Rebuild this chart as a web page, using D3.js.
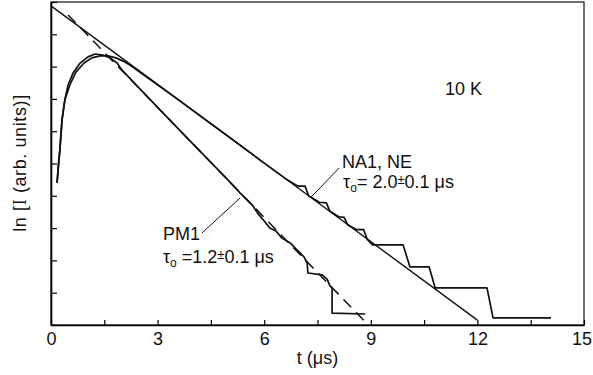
<!DOCTYPE html>
<html>
<head>
<meta charset="utf-8">
<script src="https://cdn.jsdelivr.net/npm/d3@7"></script>
<style>
  body { margin: 0; background: #fff; }
  svg { display: block; }
  text { font-family: "Liberation Sans", Arial, sans-serif; fill: #111; }
</style>
</head>
<body>
<svg id="chart" width="593" height="375"></svg>
<script>
// tick values
const xTicks = [0, 1.5, 3, 4.5, 6, 7.5, 9, 10.5, 12, 13.5, 15];
const xLabels = [0, 3, 6, 9, 12, 15];
const yTicks = [0, 1, 2, 3, 4, 5, 6, 7, 8, 9, 10];

// fitted exponentials (straight lines in ln scale), [t, lnI]
const na1Fit = [[0, 9.88], [12, 0.15]];
const pm1Fit = [[0.48, 9.6], [8.93, 0]];

// measured decay NA1, NE
const na1Data = [
  [0.17, 4.40], [0.21, 4.95], [0.25, 5.42], [0.31, 6.35], [0.39, 6.97], [0.53, 7.43],
  [0.70, 7.83], [0.93, 8.11], [1.15, 8.27], [1.38, 8.33], [1.60, 8.33],
  [1.83, 8.27], [2.03, 8.17], [2.22, 8.05], [3.5, 7.04], [5.0, 5.83],
  [6.0, 5.01], [6.6, 4.53], [6.95, 4.30], [7.15, 4.30], [7.25, 4.0],
  [7.55, 3.80], [7.75, 3.78], [7.85, 3.52], [8.10, 3.35], [8.25, 3.33],
  [8.35, 3.10], [8.6, 2.95], [8.8, 2.95], [8.9, 2.65], [9.05, 2.48],
  [9.91, 2.48], [10.10, 1.80], [10.64, 1.80], [10.81, 1.15], [12.27, 1.15],
  [12.44, 0.22], [14.07, 0.22]
];

// measured decay PM1
const pm1Data = [
  [0.17, 4.40], [0.21, 4.95], [0.25, 5.42], [0.31, 6.35], [0.39, 6.97], [0.48, 7.43],
  [0.62, 7.80], [0.82, 8.11], [1.04, 8.30], [1.24, 8.39], [1.46, 8.36],
  [1.66, 8.27], [1.86, 8.11], [2.00, 7.89], [3.0, 6.74], [4.0, 5.60],
  [4.93, 4.55], [5.32, 4.09], [5.66, 3.72], [5.83, 3.44], [6.00, 3.22],
  [6.16, 3.00], [6.33, 2.91], [6.50, 2.69], [6.73, 2.54], [6.90, 2.35],
  [7.01, 2.23], [7.12, 2.11], [7.21, 1.92], [7.23, 1.61], [7.63, 1.55],
  [7.77, 1.42], [7.85, 1.21], [7.91, 1.15], [7.91, 0.37], [8.84, 0.34]
];

const svg = d3.select('#chart');
const x = d3.scaleLinear().domain([0, 15]).range([51, 584]);
const y = d3.scaleLinear().domain([0, 10]).range([325, 2]);

const line = d3.line().x(d => x(d[0])).y(d => y(d[1]));

// frame
svg.append('rect')
  .attr('x', x(0)).attr('y', y(10))
  .attr('width', x(15) - x(0)).attr('height', y(0) - y(10))
  .attr('fill', 'none').attr('stroke', '#111').attr('stroke-width', 1.2);

// axes, ticks pointing inward
const xAxis = svg.append('g')
  .attr('transform', `translate(0,${y(0)})`)
  .call(d3.axisBottom(x).tickValues(xTicks).tickSizeInner(-5).tickSizeOuter(0).tickPadding(7)
    .tickFormat(d => xLabels.includes(d) ? d : ''));
xAxis.select('.domain').attr('stroke-width', 1.6);
xAxis.selectAll('line').attr('stroke-width', 1.2);
xAxis.selectAll('text').attr('font-size', 18).attr('font-family', '"Liberation Sans", Arial, sans-serif')
  .attr('dx', d => d === 15 ? -2.5 : 0);

const yAxis = svg.append('g')
  .attr('transform', `translate(${x(0)},0)`)
  .call(d3.axisLeft(y).tickValues(yTicks).tickSizeInner(-6).tickSizeOuter(0).tickFormat(''));
yAxis.select('.domain').attr('stroke-width', 1.6);
yAxis.selectAll('line').attr('stroke-width', 1.2);

// fit lines
svg.append('path').datum(na1Fit).attr('d', line)
  .attr('fill', 'none').attr('stroke', '#111').attr('stroke-width', 1.4);
svg.append('path').datum(pm1Fit).attr('d', line)
  .attr('fill', 'none').attr('stroke', '#111').attr('stroke-width', 1.5)
  .attr('stroke-dasharray', '11,7');

// measured curves
[na1Data, pm1Data].forEach(series => {
  svg.append('path').datum(series).attr('d', line)
    .attr('fill', 'none').attr('stroke', '#111').attr('stroke-width', 1.7)
    .attr('stroke-linejoin', 'round');
});

// leader lines
svg.append('path').datum([[8.11, 4.86], [7.32, 3.96]]).attr('d', line)
  .attr('stroke', '#111').attr('stroke-width', 1);
svg.append('path').datum([[4.25, 2.85], [5.32, 3.93]]).attr('d', line)
  .attr('stroke', '#111').attr('stroke-width', 1);

// annotations
const fs = 18;
svg.append('text').attr('x', x(11.09)).attr('y', y(7.12)).attr('font-size', fs).text('10 K');
svg.append('text').attr('x', x(8.19)).attr('y', y(4.86)).attr('font-size', fs).text('NA1, NE');
svg.append('text').attr('x', x(3.15)).attr('y', y(2.63)).attr('font-size', fs).text('PM1');

function tau(t, v, pre, val) {
  const tx = svg.append('text').attr('x', x(t)).attr('y', y(v)).attr('font-size', fs);
  tx.append('tspan').text('τ');
  tx.append('tspan').attr('dy', 4).attr('font-size', 12).text('o');
  tx.append('tspan').attr('dy', -4).text(pre + val);
  tx.append('tspan').attr('dy', -4).attr('font-size', 13).text('±');
  tx.append('tspan').attr('dy', 4).text('0.1 μs');
}
tau(8.22, 4.24, '= ', '2.0');
tau(3.15, 1.92, ' =', '1.2');

// axis titles
svg.append('text').attr('x', x(7.5)).attr('y', 364).attr('text-anchor', 'middle')
  .attr('font-size', fs).text('t (μs)');

const yt = svg.append('text').attr('transform', 'translate(26,163) rotate(-90)')
  .attr('text-anchor', 'middle').attr('font-size', fs).attr('letter-spacing', 0.6);
yt.append('tspan').text('ln [');
yt.append('tspan').attr('font-family', '"Liberation Serif", serif').text('I');
yt.append('tspan').text(' (arb. units)]');
</script>
</body>
</html>
